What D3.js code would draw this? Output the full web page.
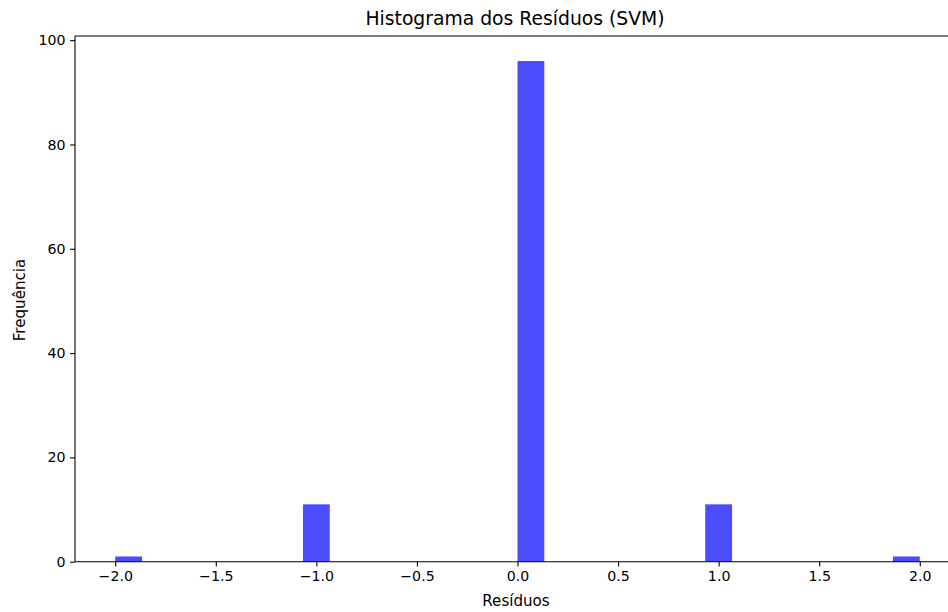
<!DOCTYPE html>
<html><head><meta charset="utf-8">
<script src="https://cdn.jsdelivr.net/npm/d3@7"></script>
<style>body{margin:0;background:#fff}svg{display:block}text{font-family:"DejaVu Sans",sans-serif;fill:#000}</style>
</head><body><svg id="c" width="948" height="612"></svg>
<script>
const residuos = [-2, -1, 0, 1, 2];
const frequencias = [1, 11, 96, 11, 1];
const binRange = [-2, 2];
const binCount = 30;
const xTicks = [-2.0, -1.5, -1.0, -0.5, 0.0, 0.5, 1.0, 1.5, 2.0];
const yTicks = [0, 20, 40, 60, 80, 100];
const title = "Histograma dos Resíduos (SVM)";
const xLabel = "Resíduos";
const yLabel = "Frequência";

const svg = d3.select("#c");
const L = 75, R = 960, T = 36, B = 561.7;
const x = d3.scaleLinear().domain([-2.2, 2.2]).range([L, R]);
const y = d3.scaleLinear().domain([0, 100.8]).range([B, T]);

const w = (binRange[1] - binRange[0]) / binCount;
const bars = residuos.map((v, k) => {
  const i = Math.min(Math.floor((v - binRange[0]) / w + 1e-9), binCount - 1);
  return {x0: binRange[0] + i * w, x1: binRange[0] + (i + 1) * w, n: frequencias[k]};
});

svg.append("g").selectAll("rect").data(bars).join("rect")
  .attr("x", d => x(d.x0)).attr("width", d => x(d.x1) - x(d.x0))
  .attr("y", d => y(d.n)).attr("height", d => y(0) - y(d.n))
  .attr("fill", "#0000ff").attr("fill-opacity", 0.7);

const fmt = d => d3.format(".1f")(d).replace("-", "\u2212");
const gx = svg.append("g").attr("transform", `translate(0,${B})`)
  .call(d3.axisBottom(x).tickValues(xTicks).tickFormat(fmt).tickSize(4.9).tickPadding(4.5));
const gy = svg.append("g").attr("transform", `translate(${L},0)`)
  .call(d3.axisLeft(y).tickValues(yTicks).tickSize(4.9).tickPadding(4.5));
[gx, gy].forEach(g => {
  g.select(".domain").remove();
  g.selectAll("line").attr("stroke", "#000").attr("stroke-width", 1.1);
  g.selectAll("text").style("font-family", "DejaVu Sans").style("font-size", "14.2px").attr("fill", "#000");
});

// spines
svg.append("line").attr("x1", L).attr("x2", L).attr("y1", T).attr("y2", B).attr("stroke", "#000").attr("stroke-width", 1.1);
svg.append("line").attr("x1", L).attr("x2", 948).attr("y1", B).attr("y2", B).attr("stroke", "#000").attr("stroke-width", 1.1);
svg.append("line").attr("x1", L).attr("x2", 948).attr("y1", T).attr("y2", T).attr("stroke", "#000").attr("stroke-width", 1.1);

svg.append("text").attr("x", 515).attr("y", 25).attr("text-anchor", "middle").style("font-size", "18.75px").text(title);
svg.append("text").attr("x", 516).attr("y", 606).attr("text-anchor", "middle").style("font-size", "15.1px").text(xLabel);
svg.append("text").attr("transform", `translate(25,300) rotate(-90)`).attr("text-anchor", "middle").style("font-size", "15.1px").text(yLabel);
</script></body></html>
